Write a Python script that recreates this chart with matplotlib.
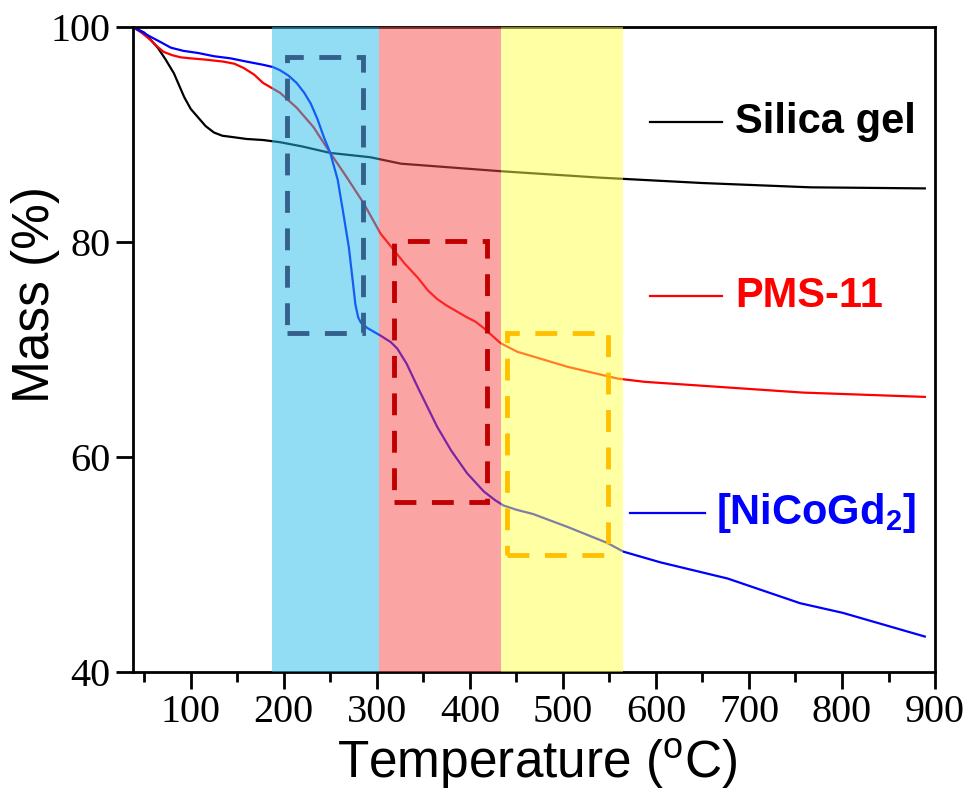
from matplotlib import pyplot as plt
from matplotlib.patches import Rectangle
from matplotlib.ticker import MultipleLocator

plt.rcParams['mathtext.fontset'] = 'custom'
plt.rcParams['mathtext.rm'] = 'Liberation Sans'
plt.rcParams['mathtext.bf'] = 'Liberation Sans:bold'

# 数据
silica_t = [38, 50, 64.5, 73, 82, 93, 100, 108, 116, 125, 134, 143, 160, 178, 196, 220, 250, 293,
            326, 433, 540, 650, 766, 889]
silica_m = [100, 99.5, 98.1, 97.0, 95.7, 93.5, 92.4, 91.6, 90.8, 90.2, 89.9, 89.8, 89.6, 89.5, 89.3,
            88.9, 88.3, 87.9, 87.3, 86.6, 86.0, 85.5, 85.1, 85.0]

pms_t = [38, 47, 57, 64, 71, 80, 89, 100, 114, 135, 147, 157, 168, 178, 196, 214, 232, 250, 268,
         286, 304, 318, 330, 344, 355, 365, 375, 387, 397, 406, 415, 424, 433, 451, 505, 559, 588,
         758, 889]
pms_m = [100, 99.5, 98.8, 98.2, 97.7, 97.4, 97.2, 97.1, 97.0, 96.8, 96.6, 96.2, 95.6, 94.8, 93.9,
         92.5, 90.7, 88.3, 86.0, 83.6, 80.8, 79.3, 78.0, 76.7, 75.5, 74.7, 74.1, 73.5, 73.0, 72.6,
         72.0, 71.3, 70.6, 69.8, 68.4, 67.3, 67.0, 66.0, 65.6]

nico_t = [38, 47, 57, 68, 78.5, 92, 108, 125, 143, 160, 178, 188, 196, 205, 214, 222, 229, 236, 243,
          250, 258, 264, 270, 274, 277, 280, 283, 290, 304, 315, 322, 332, 344, 365, 380, 397, 415,
          427, 436, 450, 468, 505, 548, 565, 605, 677, 755, 801, 889]
nico_m = [100, 99.6, 99.1, 98.6, 98.1, 97.8, 97.6, 97.3, 97.1, 96.8, 96.5, 96.3, 96.0, 95.5, 94.8,
          93.9, 92.9, 91.5, 89.8, 88.3, 85.8, 82.7, 79.5, 76.5, 74.2, 73.0, 72.5, 72.0, 71.3, 70.7,
          70.1, 68.7, 66.5, 62.8, 60.6, 58.5, 56.8, 56.0, 55.5, 55.1, 54.7, 53.5, 52.0, 51.2, 50.2,
          48.7, 46.4, 45.5, 43.3]

# 温度区间
regions = [(187, 302, '#27bbeb'), (302, 433, '#f94b4b'), (433, 565, '#ffff4b')]
# 虚线框 (x0, x1, y0, y1)
boxes = [(203, 285, 71.5, 97.2, '#34608c'), (318, 418, 55.8, 80.1, '#c00000'), (440, 548, 50.9, 71.5, '#ffc000')]

fig = plt.figure(figsize=(9.73, 8), dpi=100)
ax = fig.add_axes([0.1367, 0.16, 0.8243, 0.806])

ax.plot(silica_t, silica_m, c='black', lw=1.6, zorder=2)
ax.plot(pms_t, pms_m, c='#ff0000', lw=1.6, zorder=2)
ax.plot(nico_t, nico_m, c='#0000ff', lw=1.6, zorder=2)

for x0, x1, c in regions:
    ax.axvspan(x0, x1, color=c, alpha=0.5, lw=0, zorder=3)

for x0, x1, y0, y1, c in boxes:
    ax.add_patch(Rectangle((x0, y0), x1 - x0, y1 - y0, fill=False, ec=c, lw=3.5,
                           ls=(0, (4.5, 3.2)), zorder=4))

ax.set_xlim(38, 900)
ax.set_ylim(40, 100)
ax.xaxis.set_major_locator(MultipleLocator(100))
ax.xaxis.set_minor_locator(MultipleLocator(50))
ax.yaxis.set_major_locator(MultipleLocator(20))
ax.tick_params(which='major', direction='out', length=12, width=2, labelsize=29, pad=4)
ax.tick_params(which='minor', direction='out', length=7, width=2)
for lab in ax.get_xticklabels() + ax.get_yticklabels():
    lab.set_family('Liberation Serif')
for s in ax.spines.values():
    s.set_linewidth(2)

ax.set_xlabel('Temperature ($^\\mathregular{o}$C)', family='Liberation Sans', fontsize=37)
ax.set_ylabel('Mass (%)', family='Liberation Sans', fontsize=37)
ax.xaxis.set_label_coords(0.504, -0.10)
ax.yaxis.set_label_coords(-0.091, 0.585)

# 图例
legend_items = [('Silica gel', 'black', 0.645, 0.734, 0.853, 0.751),
                ('PMS-11', '#ff0000', 0.645, 0.734, 0.583, 0.751),
                ('[NiCoGd$_\\mathbf{2}$]', '#0000ff', 0.620, 0.713, 0.2465, 0.727)]
for text, c, lx0, lx1, ly, tx in legend_items:
    ax.plot([lx0, lx1], [ly, ly], c=c, lw=1.6, transform=ax.transAxes, zorder=5)
    ax.text(tx, ly, text, color=c, fontsize=30, fontweight='bold', family='Liberation Sans',
            va='center', ha='left', transform=ax.transAxes, zorder=5)

plt.savefig('out.png', dpi=100)
